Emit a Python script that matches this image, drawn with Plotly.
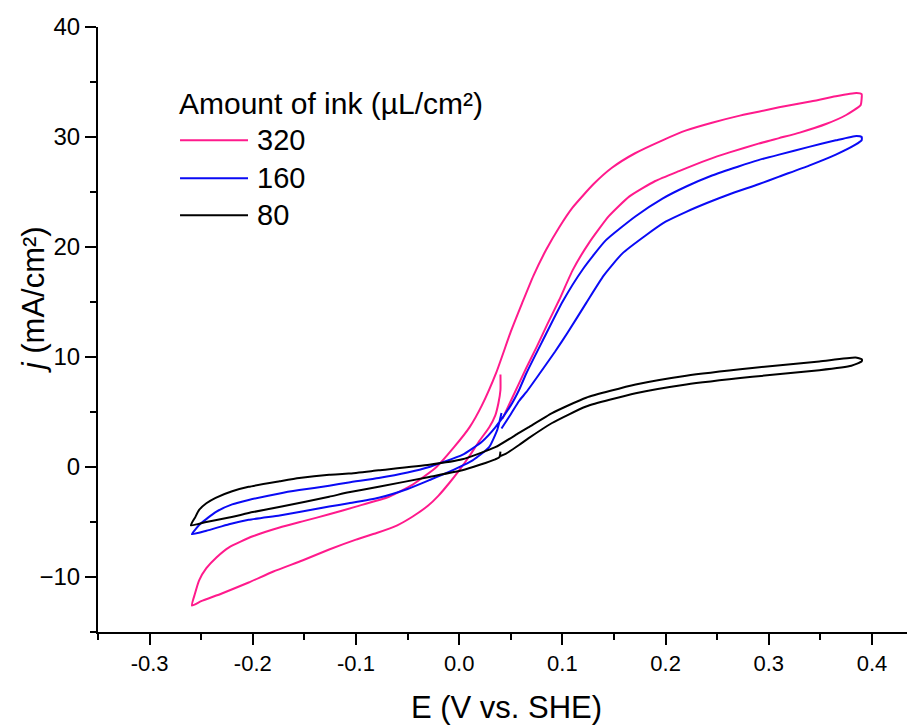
import plotly.graph_objects as go

# ---------------- data ----------------
legend_title = "Amount of ink (µL/cm²)"
series_labels = ["320", "160", "80"]

# 320 µL/cm²
e_320 = [0.040, 0.040, 0.038, 0.035, 0.029, 0.019, 0.010, 0.000, -0.010, -0.020, -0.030, -0.045,
         -0.060, -0.080, -0.100, -0.126, -0.152, -0.180, -0.204, -0.230, -0.250, -0.259,
         -0.256, -0.252, -0.245, -0.235, -0.223, -0.200, -0.174, -0.150, -0.126, -0.100,
         -0.068, -0.045, -0.022, -0.005, 0.010, 0.022, 0.036, 0.050, 0.061, 0.072, 0.084,
         0.097, 0.110, 0.130, 0.148, 0.170, 0.197, 0.220, 0.245, 0.270, 0.290, 0.310, 0.339,
         0.365, 0.385, 0.390,
         0.390, 0.389, 0.375, 0.356, 0.330, 0.310, 0.290, 0.262, 0.240, 0.213, 0.190, 0.165,
         0.145, 0.126, 0.110, 0.097, 0.085, 0.075, 0.065, 0.058, 0.050, 0.042]
j_320 = [8.4, 7.0, 5.8, 4.7, 3.6, 2.3, 1.0, -0.3, -1.5, -2.6, -3.5, -4.5,
         -5.3, -6.0, -6.6, -7.5, -8.5, -9.5, -10.5, -11.5, -12.2, -12.6,
         -11.5, -10.3, -9.2, -8.2, -7.3, -6.3, -5.5, -4.9, -4.3, -3.6,
         -2.7, -1.6, 0.0, 1.8, 3.6, 5.6, 8.6, 12.3, 14.9, 17.4, 19.7,
         21.8, 23.6, 25.7, 27.2, 28.5, 29.7, 30.6, 31.3, 31.9, 32.3, 32.7, 33.2,
         33.7, 34.0, 33.9,
         33.5, 32.9, 32.0, 31.2, 30.4, 29.9, 29.4, 28.6, 27.9, 26.9, 26.0, 24.6,
         22.8, 20.4, 17.9, 15.2, 12.9, 10.9, 9.0, 7.6, 6.0, 4.4]

# 160 µL/cm²
e_160 = [0.041, 0.039, 0.037, 0.029, 0.013, -0.010, -0.029, -0.050, -0.078, -0.107, -0.126,
         -0.155, -0.174, -0.204, -0.223, -0.245, -0.259,
         -0.255, -0.250, -0.236, -0.220, -0.204, -0.174, -0.155, -0.126, -0.107, -0.078,
         -0.050, -0.029, -0.017, 0.003, 0.022, 0.035, 0.050, 0.058, 0.065, 0.081, 0.100,
         0.120, 0.142, 0.171, 0.197, 0.220, 0.245, 0.270, 0.290, 0.310, 0.339, 0.365, 0.385, 0.390,
         0.390, 0.384, 0.365, 0.339, 0.310, 0.290, 0.262, 0.240, 0.220, 0.200, 0.180, 0.158,
         0.140, 0.123, 0.105, 0.093, 0.078, 0.065, 0.058, 0.050, 0.041]
j_160 = [4.9, 4.1, 3.4, 1.8, 0.6, -0.45, -1.2, -2.0, -2.8, -3.3, -3.6,
         -4.1, -4.4, -4.8, -5.2, -5.8, -6.1,
         -5.6, -5.1, -4.1, -3.4, -3.0, -2.4, -2.1, -1.7, -1.4, -1.0,
         -0.5, 0.0, 0.4, 1.1, 2.3, 3.6, 5.6, 7.0, 8.5, 11.5, 15.0,
         18.0, 20.6, 22.8, 24.4, 25.5, 26.5, 27.3, 27.9, 28.4, 29.1, 29.7, 30.1, 30.0,
         29.7, 29.3, 28.4, 27.4, 26.4, 25.7, 24.8, 24.0, 23.2, 22.3, 21.0, 19.4,
         17.4, 14.9, 12.2, 10.5, 8.5, 6.8, 6.0, 4.8, 3.5]

# 80 µL/cm²
e_80 = [0.040, 0.039, 0.035, 0.020, 0.003, -0.029, -0.078, -0.107, -0.126, -0.172, -0.200,
        -0.223, -0.245, -0.260,
        -0.256, -0.252, -0.245, -0.236, -0.220, -0.204, -0.174, -0.155, -0.126, -0.107,
        -0.078, -0.029, 0.003, 0.035, 0.058, 0.067, 0.090, 0.123, 0.171, 0.220, 0.284,
        0.349, 0.384, 0.390,
        0.390, 0.380, 0.349, 0.284, 0.220, 0.171, 0.123, 0.090, 0.067, 0.058, 0.045, 0.040]
j_80 = [1.4, 0.9, 0.7, 0.2, -0.3, -0.9, -1.8, -2.3, -2.7, -3.6, -4.1,
        -4.6, -5.0, -5.3,
        -4.6, -3.9, -3.3, -2.8, -2.2, -1.8, -1.3, -1.0, -0.7, -0.6,
        -0.3, 0.2, 0.7, 1.8, 3.1, 3.6, 4.9, 6.3, 7.5, 8.3, 9.0,
        9.6, 9.95, 9.8,
        9.6, 9.2, 8.8, 8.2, 7.5, 6.7, 5.5, 4.0, 2.6, 2.0, 1.2, 1.0]

x_ticks = [-0.3, -0.2, -0.1, 0.0, 0.1, 0.2, 0.3, 0.4]
x_tick_labels = ["-0.3", "-0.2", "-0.1", "0.0", "0.1", "0.2", "0.3", "0.4"]
y_ticks = [-10, 0, 10, 20, 30, 40]

colors = ["#FF1A8C", "#0A0AF5", "#000000"]
series = [(e_320, j_320), (e_160, j_160), (e_80, j_80)]

FONT = "Arial, Liberation Sans, Arimo, sans-serif"

fig = go.Figure()
for (xs, ys), name, col in zip(series, series_labels, colors):
    fig.add_trace(go.Scatter(x=xs, y=ys, mode="lines", name=name,
                             line=dict(color=col, width=2, shape="spline", smoothing=0.5),
                             showlegend=False))

# manual legend (long line samples as in the reference)
leg_x0, leg_x1, leg_tx = 0.1004, 0.1836, 0.1946
leg_ys = [0.813, 0.750, 0.689]
fig.add_annotation(x=leg_x0 - 0.004, y=0.874, xref="paper", yref="paper", text=legend_title,
                   showarrow=False, xanchor="left", yanchor="middle",
                   font=dict(family=FONT, size=30, color="black"))
for name, col, yy in zip(series_labels, colors, leg_ys):
    fig.add_shape(type="line", xref="paper", yref="paper", x0=leg_x0, x1=leg_x1, y0=yy, y1=yy,
                  line=dict(color=col, width=2))
    fig.add_annotation(x=leg_tx - 0.003, y=yy, xref="paper", yref="paper", text=name, showarrow=False,
                       xanchor="left", yanchor="middle",
                       font=dict(family=FONT, size=29, color="black"))

# y-axis title placed as in the reference (slightly above the axis centre)
fig.add_annotation(x=-0.0796, y=0.55, xref="paper", yref="paper", text="<i>j</i> (mA/cm²)",
                   textangle=-90, showarrow=False, xanchor="center", yanchor="middle",
                   font=dict(family=FONT, size=31, color="black"))

# the page body adds an 8px offset, so the figure is 8px smaller and margins shifted
fig.update_layout(
    width=907, height=717,
    margin=dict(l=90, r=0, t=19, b=93),
    plot_bgcolor="white", paper_bgcolor="white",
    font=dict(family=FONT, color="black"),
)
fig.update_xaxes(
    range=[-0.35, 0.4417], tickvals=x_ticks, ticktext=x_tick_labels, automargin=False,
    ticks="outside", ticklen=11, tickwidth=2, tickcolor="black",
    showline=True, linewidth=2, linecolor="black", showgrid=False, zeroline=False,
    minor=dict(ticks="outside", ticklen=6, tickwidth=2, tickcolor="black", dtick=0.05, tick0=0, showgrid=False),
    tickfont=dict(family=FONT, size=22),
    title=dict(text="E (V vs. SHE)", font=dict(family=FONT, size=31), standoff=22),
)
fig.update_yaxes(
    range=[-15, 40], tickvals=y_ticks, automargin=False,
    ticks="outside", ticklen=11, tickwidth=2, tickcolor="black",
    showline=True, linewidth=2, linecolor="black", showgrid=False, zeroline=False,
    minor=dict(ticks="outside", ticklen=6, tickwidth=2, tickcolor="black", dtick=5, tick0=0, showgrid=False),
    tickfont=dict(family=FONT, size=24),
)

fig.write_html("out.html")
